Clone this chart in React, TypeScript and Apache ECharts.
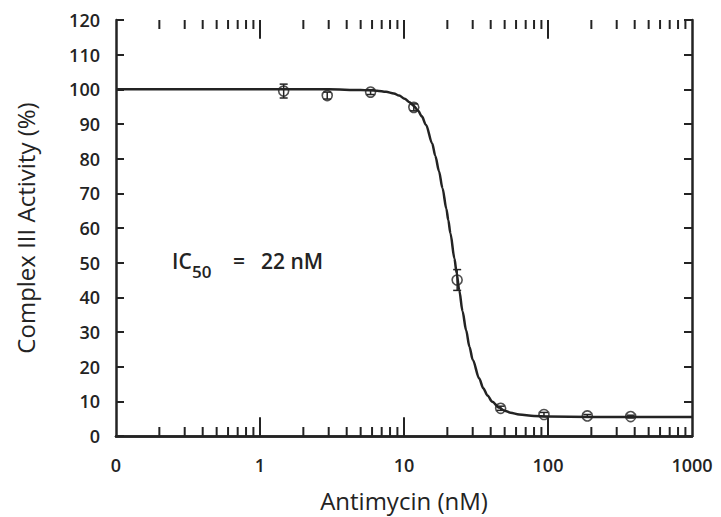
import React, { useEffect, useRef } from "react";
import * as echarts from "echarts";

// Measured data points (Antimycin concentration in nM, activity in %)
const concentrations = [1.46, 2.93, 5.86, 11.7, 23.4, 46.9, 93.75, 187.5, 375];
const activity = [99.5, 98.2, 99.2, 94.8, 45, 8, 6.2, 5.8, 5.6];
const errors = [2, 1, 0.7, 1, 3, 0.6, 0.6, 0.4, 0.4];

// Fitted curve
const fitX = [0.1, 1, 3, 5, 6.5, 7.5, 8.5, 9.25, 10.1, 10.9, 11.7, 12.5, 13.3, 14.2, 15.7, 16.5, 17.5, 18.5, 19.7, 20.3, 21, 22.4, 23.2, 24.2, 25.5, 27, 28.5, 30, 33.3, 35.5, 38, 41, 45.7, 50, 55, 63, 80, 100, 200, 1000];
const fitY = [100, 100, 100, 99.8, 99.6, 99.3, 98.8, 98.2, 97.3, 96.3, 95.2, 93.9, 92.2, 89.8, 84.4, 80.8, 76.4, 71.5, 65.5, 62.3, 58.5, 51.2, 47, 42, 36, 30.5, 25.7, 22, 16.6, 13.8, 11.7, 9.9, 8.2, 7.3, 6.7, 6.2, 5.8, 5.6, 5.5, 5.5];

// Axis tick values
const xMajorTicks = [0.1, 1, 10, 100, 1000];
const xTickLabels = ["0", "1", "10", "100", "1000"];
const xMinorTicks = [0.2, 0.3, 0.4, 0.5, 0.6, 0.7, 0.8, 0.9, 2, 3, 4, 5, 6, 7, 8, 9, 20, 30, 40, 50, 60, 70, 80, 90, 200, 300, 400, 500, 600, 700, 800, 900];
const yMin = 0;
const yMax = 120;
const yInterval = 10;

const FONT = "'Open Sans', 'Noto Sans', sans-serif";
const INK = "#232323";
const MINOR_LEN = 9;
const MAJOR_LEN_UNITS = 5.4; // length of decade ticks, in y-axis units

export default function App() {
  const ref = useRef<HTMLDivElement>(null);

  useEffect(() => {
    if (!ref.current) return;
    const chart = echarts.init(ref.current, undefined, { renderer: "svg" });

    const labelFor = (v: number) => {
      let best = 0;
      let bestD = Infinity;
      xMajorTicks.forEach((t, i) => {
        const d = Math.abs(Math.log10(v) - Math.log10(t));
        if (d < bestD) {
          bestD = d;
          best = i;
        }
      });
      return xTickLabels[best];
    };

    const axisLineStyle = { color: INK, width: 2.5 };

    const majorSegments: any[] = [];
    xMajorTicks.slice(1, -1).forEach((v) => {
      majorSegments.push([{ coord: [v, yMin] }, { coord: [v, yMin + MAJOR_LEN_UNITS] }]);
      majorSegments.push([{ coord: [v, yMax] }, { coord: [v, yMax - MAJOR_LEN_UNITS] }]);
    });

    const option: any = {
      animation: false,
      backgroundColor: "#ffffff",
      grid: { left: 116, right: 29, top: 20, bottom: 80, containLabel: false },
      xAxis: [
        {
          type: "log",
          logBase: 10,
          min: 0.1,
          max: 1000,
          position: "bottom",
          axisLine: { show: true, lineStyle: axisLineStyle },
          axisTick: { show: false },
          splitLine: { show: false },
          axisLabel: {
            show: true,
            margin: 20,
            formatter: (v: number) => labelFor(v),
            fontFamily: FONT,
            fontSize: 18,
            fontWeight: 600,
            color: INK,
          },
          name: "Antimycin (nM)",
          nameLocation: "middle",
          nameGap: 52,
          nameTextStyle: { fontFamily: FONT, fontSize: 24, color: INK },
        },
        {
          type: "log",
          logBase: 10,
          min: 0.1,
          max: 1000,
          position: "top",
          axisLine: { show: true, lineStyle: axisLineStyle },
          axisTick: { show: false },
          axisLabel: { show: false },
          splitLine: { show: false },
        },
      ],
      yAxis: [
        {
          type: "value",
          min: yMin,
          max: yMax,
          interval: yInterval,
          position: "left",
          axisLine: { show: true, lineStyle: axisLineStyle },
          axisTick: { show: true, inside: true, length: 8, lineStyle: { color: INK, width: 2 } },
          splitLine: { show: false },
          axisLabel: {
            show: true,
            margin: 16,
            fontFamily: FONT,
            fontSize: 18,
            fontWeight: 600,
            color: INK,
          },
          name: "Complex III Activity (%)",
          nameLocation: "middle",
          nameGap: 79,
          nameTextStyle: { fontFamily: FONT, fontSize: 24, color: INK },
        },
        {
          type: "value",
          min: yMin,
          max: yMax,
          interval: yInterval,
          position: "right",
          axisLine: { show: true, lineStyle: axisLineStyle },
          axisTick: { show: true, inside: true, length: 8, lineStyle: { color: INK, width: 2 } },
          axisLabel: { show: false },
          splitLine: { show: false },
        },
      ],
      series: [
        {
          name: "xMinorTicks",
          type: "custom",
          xAxisIndex: 0,
          yAxisIndex: 0,
          silent: true,
          clip: false,
          data: xMinorTicks.map((v) => [v, yMin]),
          renderItem: (params: any, api: any) => {
            const v = api.value(0);
            const b = api.coord([v, yMin]);
            const t = api.coord([v, yMax]);
            const style = { stroke: INK, lineWidth: 2 };
            return {
              type: "group",
              children: [
                { type: "line", shape: { x1: b[0], y1: b[1], x2: b[0], y2: b[1] - MINOR_LEN }, style },
                { type: "line", shape: { x1: t[0], y1: t[1], x2: t[0], y2: t[1] + MINOR_LEN }, style },
              ],
            };
          },
          z: 1,
        },
        {
          name: "fit",
          type: "line",
          xAxisIndex: 0,
          yAxisIndex: 0,
          showSymbol: false,
          smooth: 0.3,
          smoothMonotone: "x",
          lineStyle: { color: INK, width: 2.5 },
          data: fitX.map((x, i) => [x, fitY[i]]),
          markLine: {
            silent: true,
            symbol: ["none", "none"],
            label: { show: false },
            lineStyle: { color: INK, width: 2, type: "solid" },
            emphasis: { disabled: true },
            data: majorSegments,
          },
          z: 2,
        },
        {
          name: "errors",
          type: "custom",
          xAxisIndex: 0,
          yAxisIndex: 0,
          data: concentrations.map((x, i) => [x, activity[i], errors[i]]),
          renderItem: (params: any, api: any) => {
            const x = api.value(0);
            const y = api.value(1);
            const e = api.value(2);
            const top = api.coord([x, y + e]);
            const bot = api.coord([x, y - e]);
            const hw = 4;
            const style = { stroke: INK, lineWidth: 1.5 };
            return {
              type: "group",
              children: [
                { type: "line", shape: { x1: top[0], y1: top[1], x2: bot[0], y2: bot[1] }, style },
                { type: "line", shape: { x1: top[0] - hw, y1: top[1], x2: top[0] + hw, y2: top[1] }, style },
                { type: "line", shape: { x1: bot[0] - hw, y1: bot[1], x2: bot[0] + hw, y2: bot[1] }, style },
              ],
            };
          },
          z: 3,
        },
        {
          name: "data",
          type: "scatter",
          xAxisIndex: 0,
          yAxisIndex: 0,
          symbol: "circle",
          symbolSize: 10,
          itemStyle: { color: "rgba(255,255,255,0)", borderColor: INK, borderWidth: 1.6 },
          data: concentrations.map((x, i) => [x, activity[i]]),
          z: 4,
        },
      ],
      graphic: [
        { type: "text", left: 172, top: 250, style: { text: "IC", fontFamily: FONT, fontSize: 21, fontWeight: 600, fill: INK } },
        { type: "text", left: 192, top: 263, style: { text: "50", fontFamily: FONT, fontSize: 17, fontWeight: 600, fill: INK } },
        { type: "text", left: 233, top: 250, style: { text: "=", fontFamily: FONT, fontSize: 21, fontWeight: 600, fill: INK } },
        { type: "text", left: 261, top: 250, style: { text: "22 nM", fontFamily: FONT, fontSize: 21, fontWeight: 600, fill: INK } },
      ],
    };

    chart.setOption(option);
    return () => chart.dispose();
  }, []);

  return (
    <div
      ref={ref}
      style={{ position: "fixed", left: 0, top: 0, width: 721, height: 517, background: "#fff" }}
    />
  );
}
